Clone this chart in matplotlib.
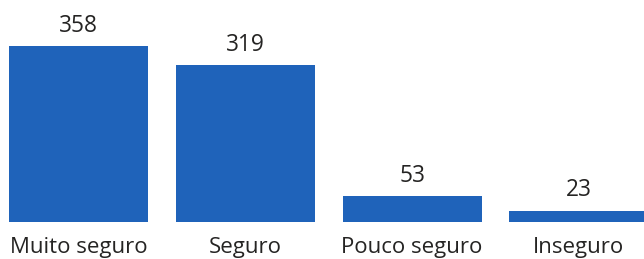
import matplotlib.pyplot as plt
import matplotlib.transforms as mtransforms

# Data
categories = ["Muito seguro", "Seguro", "Pouco seguro", "Inseguro"]
values = [358, 319, 53, 23]

BAR_COLOR = "#1f63ba"
TEXT_COLOR = "#252423"

plt.rcParams["font.family"] = ["Open Sans", "DejaVu Sans"]

fig = plt.figure(figsize=(6.44, 2.59), dpi=100)
ax = fig.add_axes([0, 0.1417, 1, 0.6795])

x = list(range(len(categories)))
ax.bar(x, values, width=0.834, color=BAR_COLOR)
ax.set_xlim(-0.4718, 3.391)
ax.set_ylim(0, max(values))

# Value labels above bars
for xi, v in zip(x, values):
    ax.annotate(str(v), (xi, v), xytext=(0, 10.5), textcoords="offset points",
                ha="center", va="baseline", fontsize=16.3, color=TEXT_COLOR)

# Category labels below bars
trans = mtransforms.blended_transform_factory(ax.transData, ax.transAxes)
for xi, c in zip(x, categories):
    ax.annotate(c, (xi, 0), xycoords=trans, xytext=(0, -22), textcoords="offset points",
                ha="center", va="baseline", fontsize=16, color=TEXT_COLOR)

ax.axis("off")

fig.savefig("out.png", dpi=100)
